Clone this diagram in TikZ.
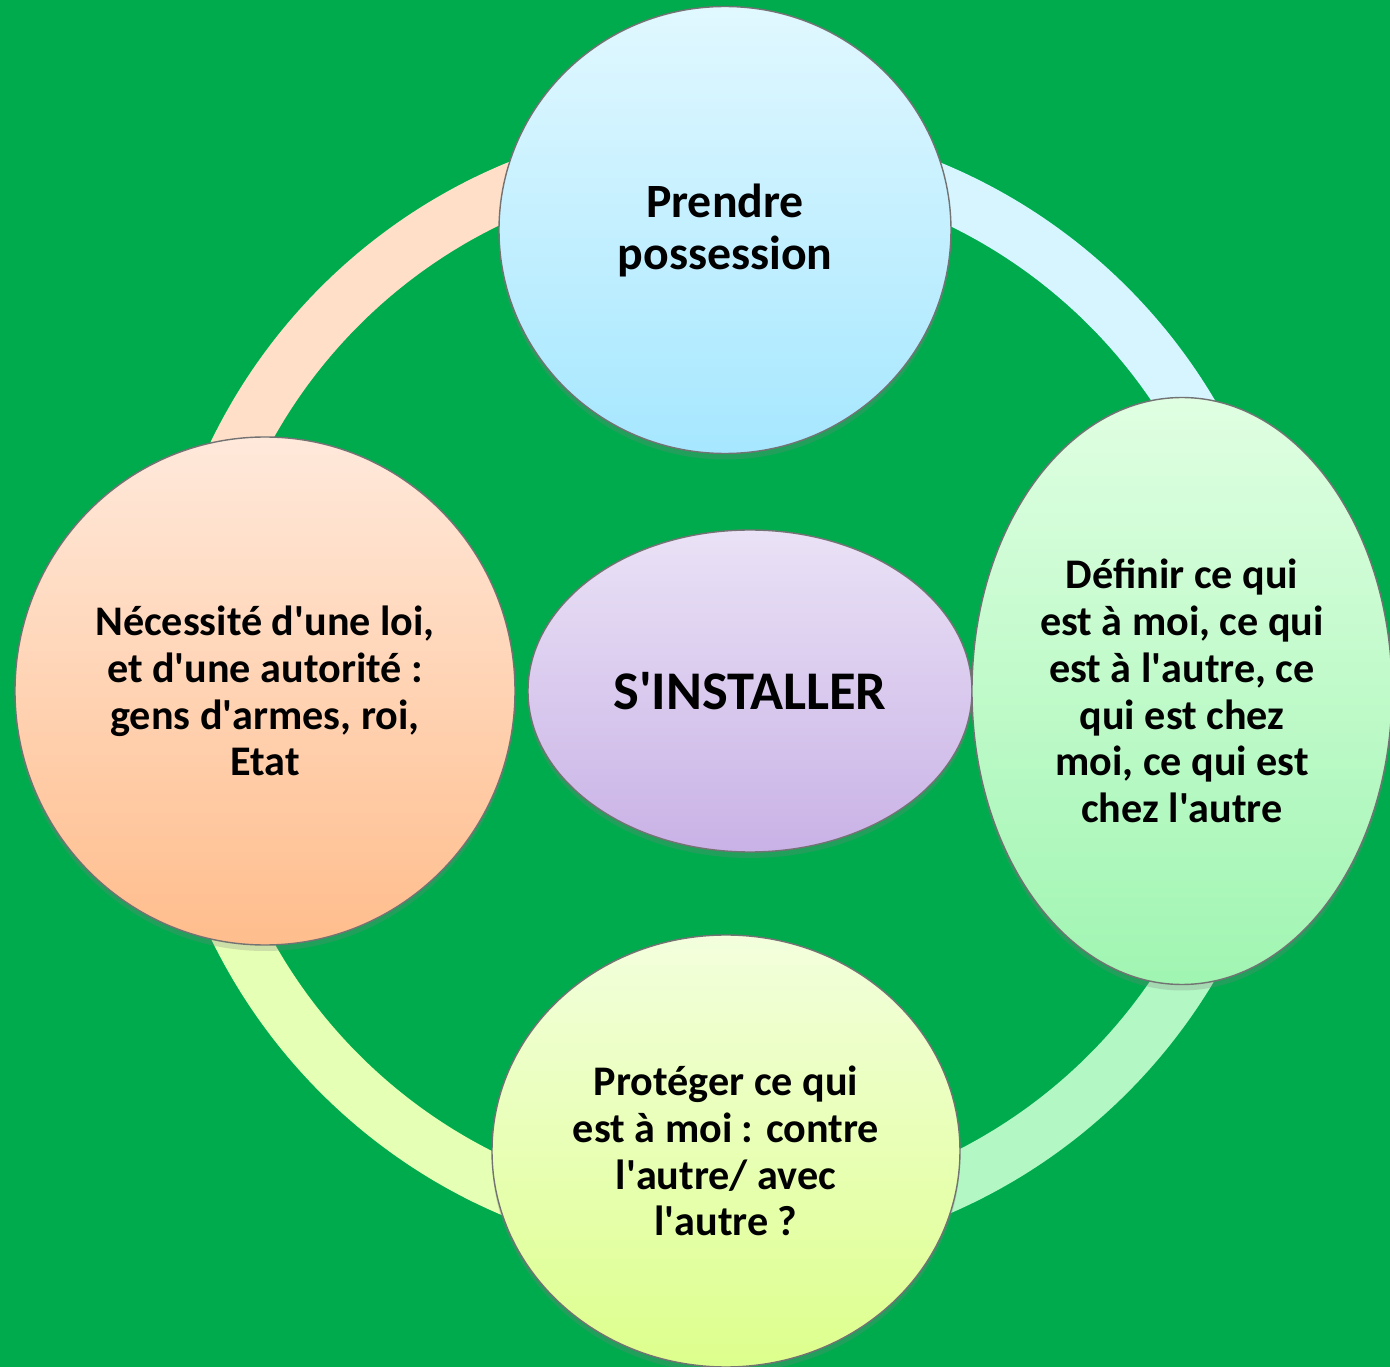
\documentclass[tikz,border=0pt]{standalone}
\usepackage{fontspec}
\setmainfont{Carlito}
\usetikzlibrary{shapes,shadows}

\definecolor{bggreen}{RGB}{0,171,78}
\definecolor{ringpeach}{RGB}{255,223,200}
\definecolor{ringcyan}{RGB}{214,245,255}
\definecolor{ringgreen}{RGB}{178,247,196}
\definecolor{ringyellow}{RGB}{229,255,180}
\newcommand{\apos}{\textquotesingle}

\begin{document}
\begin{tikzpicture}
	\tikzset{
		mynode/.style={ellipse, draw=black!55, line width=0.4pt, inner sep=0pt, align=center, font=\fontsize{12}{13.3}\selectfont\bfseries, drop shadow={opacity=0.25, shadow xshift=0pt, shadow yshift=-0.6mm}},
		myring/.style={line width=5.4mm},
		mylabel/.style={font=\fontsize{15.5}{17}\selectfont\bfseries}
	}
	\clip (0,0) rectangle (13.9,13.67);
	\fill[bggreen] (0,0) rectangle (13.9,13.67);

	% ring behind the circles
	\coordinate (ringc) at (7.24,6.77);
	\draw[myring, ringcyan] ([shift={(0:5.43)}]ringc) arc[start angle=0, end angle=90, radius=5.43];
	\draw[myring, ringpeach] ([shift={(90:5.43)}]ringc) arc[start angle=90, end angle=180, radius=5.43];
	\draw[myring, ringyellow] ([shift={(180:5.43)}]ringc) arc[start angle=180, end angle=270, radius=5.43];
	\draw[myring, ringgreen] ([shift={(270:5.43)}]ringc) arc[start angle=270, end angle=360, radius=5.43];

	\node[mynode, top color={rgb,255:red,234;green,226;blue,246}, bottom color={rgb,255:red,201;green,178;blue,230}, minimum width=4.44cm, minimum height=3.22cm] (install) at (7.50,6.76) {};
	\node[mylabel] (installt) at (install.center) {S\apos INSTALLER};

	\node[mynode, top color={rgb,255:red,225;green,248;blue,255}, bottom color={rgb,255:red,166;green,231;blue,255}, minimum width=4.52cm, minimum height=4.47cm, font=\fontsize{13.6}{14.8}\selectfont\bfseries] (prendre) at (7.25,11.37) {Prendre\\possession};

	\node[mynode, top color={rgb,255:red,224;green,255;blue,226}, bottom color={rgb,255:red,160;green,245;blue,178}, minimum width=4.2cm, minimum height=5.87cm] (definir) at (11.82,6.76) {D\'efinir ce qui\\est \`a moi, ce qui\\est \`a l\apos autre, ce\\qui est chez\\moi, ce qui est\\chez l\apos autre};

	\node[mynode, top color={rgb,255:red,243;green,255;blue,221}, bottom color={rgb,255:red,221;green,255;blue,140}, minimum width=4.68cm, minimum height=4.32cm] (proteger) at (7.26,2.16) {Prot\'eger ce qui\\est \`a moi : contre\\l\apos autre/ avec\\l\apos autre ?};

	\node[mynode, top color={rgb,255:red,255;green,233;blue,219}, bottom color={rgb,255:red,255;green,189;blue,140}, minimum width=5.0cm, minimum height=5.08cm] (loi) at (2.65,6.76) {N\'ecessit\'e d\apos une loi,\\et d\apos une autorit\'e :\\gens d\apos armes, roi,\\Etat};
\end{tikzpicture}
\end{document}
